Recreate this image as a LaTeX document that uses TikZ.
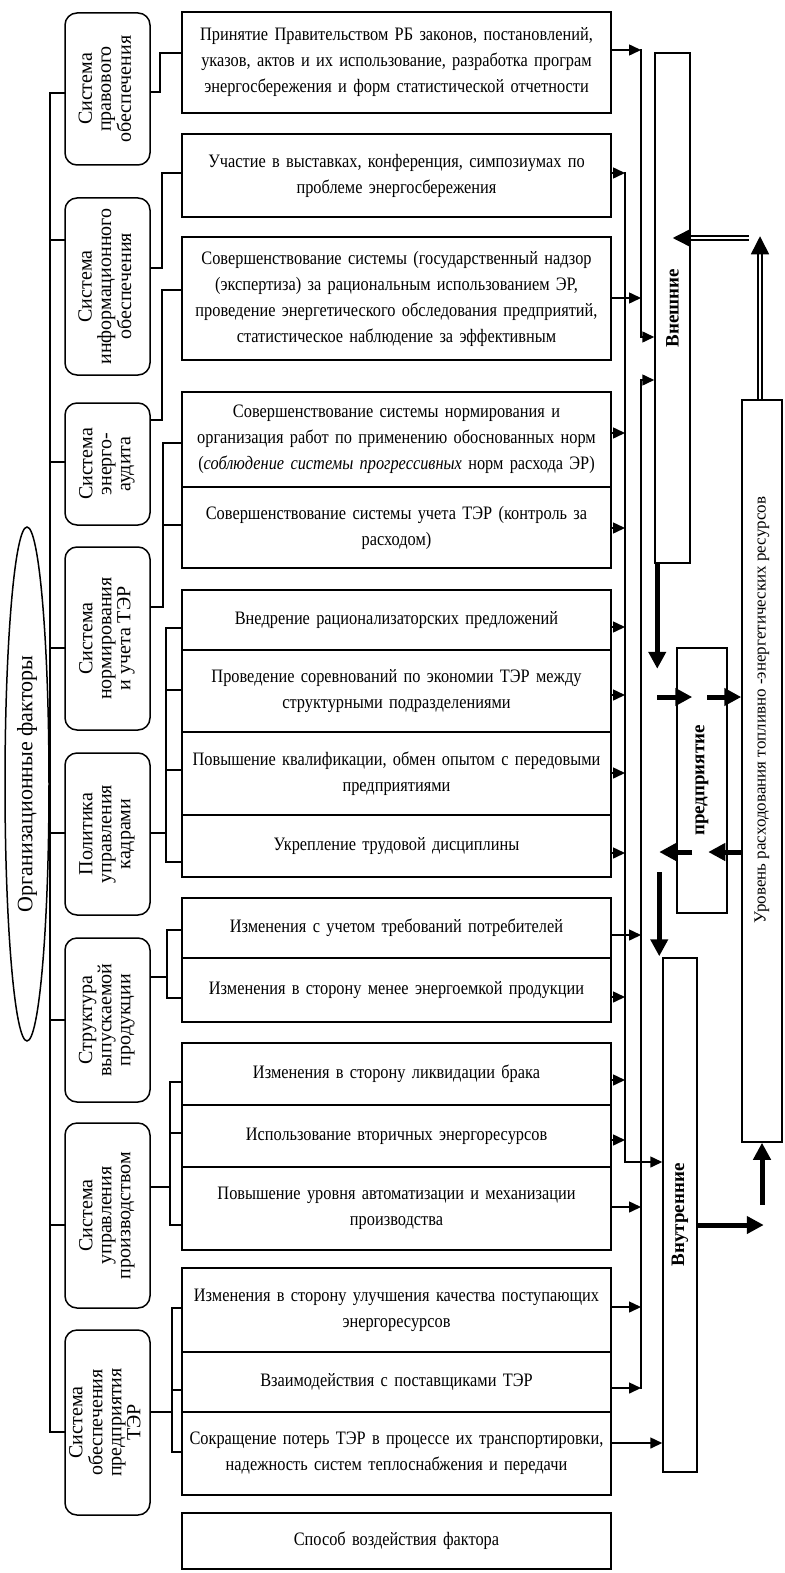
\documentclass[tikz,border=0pt]{standalone}
\usepackage{fontspec}
\setmainfont{Liberation Serif}
\newfontfamily\boxfont{Liberation Serif}[FakeStretch=0.86]
\usepackage{graphicx}
\usetikzlibrary{
  shapes.geometric,
  arrows.meta
}

\begin{document}
\begin{tikzpicture}[x=1pt,y=-1pt]
  \tikzset{
    wire/.style={line width=1.5pt, line cap=rect},
    txtbox/.style={wire, draw, minimum width=429pt, text width=425pt,
      align=center, inner sep=0pt, font=\boxfont\fontsize{19}{26}\selectfont},
    catbox/.style={wire, draw, rounded corners=12pt, minimum width=85pt,
      inner sep=0pt, font=\fontsize{20}{19}\selectfont},
    sidebox/.style={wire, draw, inner sep=0pt, font=\fontsize{19}{20}\selectfont},
    arr/.style={wire, -{Triangle[length=12pt,width=11pt]}},
    heavy/.style={line width=5pt, -{Triangle[length=17pt,width=17pt]}},
    dbl/.style={line width=1.5pt, double, double distance=2.5pt,
      -{Triangle[length=18pt,width=18pt]}},
  }
  \useasboundingbox (0,0) rectangle (784,1573);

  % left ellipse and main bus
  \node[wire, draw, ellipse, minimum width=44pt, minimum height=514pt, inner sep=0pt]
  (org) at (27,784) {\rotatebox{90}{\fontsize{22}{22}\selectfont Организационные факторы}};
  \coordinate (bustop) at (50,93);
  \coordinate (busbot) at (50,1432);
  \draw[wire] (bustop) -- (busbot);

  % right side blocks
  \node[sidebox, minimum width=35pt, minimum height=510pt] (vnesh) at (672.5,308)
  {\rotatebox{90}{\bfseries Внешние}};
  \node[sidebox, minimum width=34pt, minimum height=514pt] (vnut) at (680,1215)
  {\rotatebox{90}{\bfseries Внутренние}};
  \node[sidebox, minimum width=50pt, minimum height=265pt] (pred) at (702,780.5)
  {\rotatebox{90}{\bfseries предприятие}};
  \node[sidebox, minimum width=40pt, minimum height=742pt] (lvl) at (762,771) {};
  \node[font=\fontsize{17}{20}\selectfont, rotate=90] (lvltxt) at (762,710)
  {Уровень расходования топливно -энергетических ресурсов};

  % collecting lines
  \coordinate (l1top) at (625,173);
  \coordinate (l1bot) at (625,1162);
  \coordinate (l2top) at (641,50);
  \coordinate (l2mid) at (641,337);
  \coordinate (l3top) at (641,380);
  \coordinate (l3bot) at (641,1388);
  \draw[wire] (l1top) -- (l1bot);
  \draw[arr] (l1bot) -- (vnut.west |- l1bot);
  \draw[wire] (l2top) -- (l2mid);
  \draw[arr] (l2mid) -- (vnesh.west |- l2mid);
  \draw[wire] (l3bot) -- (l3top);
  \draw[arr] (l3top) -- (vnesh.west |- l3top);

  % factor groups: top/bottom, bus stub, fork stub, fork x, fork span
  \foreach \n/\yt/\yb/\yl/\yr/\fx/\fa/\fb/\txt in {
    1/13/165/93/92/160/53/92/Система\\правового\\обеспечения,
    2/198/375/240/268/162/173/268/Система\\информационного\\обеспечения,
    3/403/525/462/420/162/290/420/Система\\энерго-\\аудита,
    4/547/730/648/607/163/443/607/Система\\нормирования\\и учета ТЭР,
    5/753/915/833/833/166/628/862/Политика\\управления\\кадрами,
    6/938/1102/1020/977/167/930/998/Структура\\выпускаемой\\продукции,
    7/1123/1308/1225/1187/170/1082/1225/Система\\управления\\производством,
    8/1330/1515/1432/1412/172/1308/1452/Система\\обеспечения\\предприятия\\ТЭР
  }{
    \pgfmathsetmacro\h{\yb-\yt}
    \pgfmathsetmacro\yc{(\yt+\yb)/2}
    \node[catbox, minimum height=\h pt] (c\n) at (107.5,\yc)
    {\rotatebox{90}{\begin{tabular}{@{}c@{}}\txt\end{tabular}}};
    \draw[wire] (bustop |- 0,\yl) -- (c\n.west |- 0,\yl);
    \draw[wire] (c\n.east |- 0,\yr) -- (\fx,\yr);
    \draw[wire] (\fx,\fa) -- (\fx,\fb);
  }

  % ways of action: top/bottom, entry y, fork x, exit y, target line
  \foreach \n/\yt/\yb/\yin/\fx/\yo/\lx/\txt in {
    1/12/113/53/160/50/l2top/{Принятие Правительством РБ законов, постановлений,\\указов, актов и их использование, разработка програм\\энергосбережения и форм статистической отчетности},
    2/134/217/173/162/173/l1top/{Участие в выставках, конференция, симпозиумах по\\проблеме энергосбережения},
    3/237/360/290/162/298/l2top/{Совершенствование системы (государственный надзор\\(экспертиза) за рациональным использованием ЭР,\\проведение энергетического обследования предприятий,\\статистическое наблюдение за эффективным},
    4/392/487/443/163/433/l1top/{Совершенствование системы нормирования и\\организация работ по применению обоснованных норм\\(\textit{соблюдение системы прогрессивных} норм расхода ЭР)},
    5/487/568/525/163/528/l1top/{Совершенствование системы учета ТЭР (контроль за\\расходом)},
    6/590/650/628/166/627/l1top/{Внедрение рационализаторских предложений},
    7/650/732/690/166/695/l1top/{Проведение соревнований по экономии ТЭР между\\структурными подразделениями},
    8/732/815/770/166/773/l1top/{Повышение квалификации, обмен опытом с передовыми\\предприятиями},
    9/815/877/862/166/853/l1top/{Укрепление трудовой дисциплины},
    10/898/958/930/167/935/l2top/{Изменения с учетом требований потребителей},
    11/958/1022/998/167/997/l1top/{Изменения в сторону менее энергоемкой продукции},
    12/1043/1105/1082/170/1080/l1top/{Изменения в сторону ликвидации брака},
    13/1105/1167/1133/170/1140/l1top/{Использование вторичных энергоресурсов},
    14/1167/1250/1225/170/1207/l2top/{Повышение уровня автоматизации и механизации\\производства},
    15/1268/1352/1308/172/1307/l2top/{Изменения в сторону улучшения качества поступающих\\энергоресурсов},
    16/1352/1412/1390/172/1388/l2top/{Взаимодействия с поставщиками ТЭР},
    17/1412/1495/1452/172/1443/vnut.west/{Сокращение потерь ТЭР в процессе их транспортировки,\\надежность систем теплоснабжения и передачи}
  }{
    \pgfmathsetmacro\h{\yb-\yt}
    \pgfmathsetmacro\yc{(\yt+\yb)/2}
    \node[txtbox, minimum height=\h pt] (t\n) at (396.5,\yc) {\txt};
    \draw[wire] (\fx,\yin) -- (t\n.west |- 0,\yin);
    \draw[arr] (t\n.east |- 0,\yo) -- (\lx |- 0,\yo);
  }

  \node[txtbox, minimum height=56pt] (legend) at (396.5,1541) {Способ воздействия фактора};

  % heavy arrows between the blocks
  \draw[heavy] (vnesh.south west) ++(3,0) -- ++(0,105);
  \draw[heavy] (pred.west |- 0,697) ++(-19,0) -- ++(35,0);
  \draw[heavy] (lvl.west |- 0,697) ++(-34,0) -- ++(34,0);
  \draw[heavy] (pred.west |- 0,852) ++(16,0) -- ++(-33,0);
  \draw[heavy] (lvl.west |- 0,852) -- ++(-33,0);
  \draw[heavy] (vnut.north west) ++(-3,-85) -- ++(0,84);
  \draw[heavy] (vnut.east |- 0,1225) -- ++(66,0);
  \draw[heavy] (lvl.south) ++(0,62) -- (lvl.south);
  % feedback to external factors
  \draw[dbl] (lvl.north) ++(-2,0) -- ++(0,-163);
  \draw[dbl] (vnesh.east |- 0,238) ++(58,0) -- ++(-76,0);
\end{tikzpicture}
\end{document}
